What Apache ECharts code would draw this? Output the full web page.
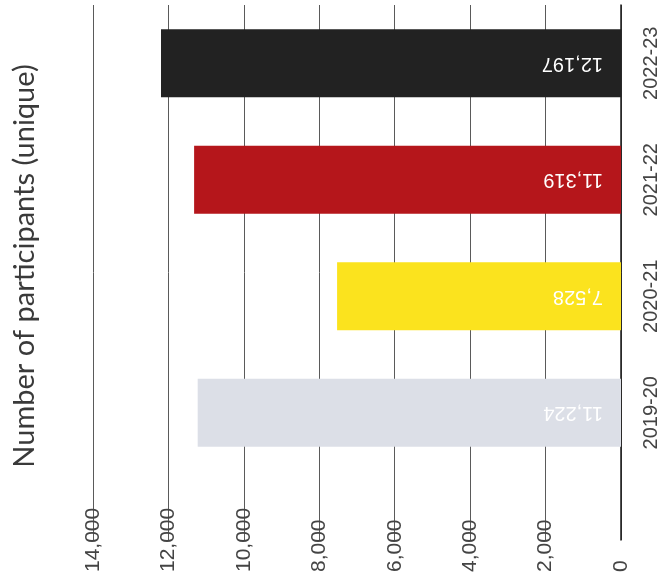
<!DOCTYPE html>
<html>
<head>
<meta charset="utf-8">
<script src="https://cdn.jsdelivr.net/npm/echarts@6/dist/echarts.min.js"></script>
<style>
  html, body { margin: 0; padding: 0; background: #ffffff; }
  #chart { width: 661px; height: 588px; }
</style>
</head>
<body>
<div id="chart"></div>
<script>
// Unique participants per academic year
const years = ['2019-20', '2020-21', '2021-22', '2022-23'];
const participants = [11224, 7528, 11319, 12197];
const barColors = ['#dcdfe7', '#fbe31e', '#b5161b', '#222222'];
const axisTitle = 'Number of participants (unique)';

const chart = echarts.init(document.getElementById('chart'), null, { renderer: 'canvas' });

const textFont = 'Liberation Sans';

chart.setOption({
  backgroundColor: '#ffffff',
  animation: false,
  grid: [
    // bars
    { left: 93, right: 40, top: 5, height: 466 },
    // gridlines, value ticks and baseline
    { left: 93, right: 40, top: 5, bottom: 48 }
  ],
  xAxis: [
    {
      gridIndex: 0, type: 'value', min: 0, max: 14000, interval: 2000, inverse: true,
      show: false
    },
    {
      gridIndex: 1, type: 'value', min: 0, max: 14000, interval: 2000, inverse: true,
      position: 'bottom',
      axisLine: { show: false },
      axisTick: { show: false },
      splitLine: { show: true, lineStyle: { color: '#5a5a5a', width: 1 } },
      axisLabel: {
        rotate: 90,
        align: 'left',
        verticalAlign: 'middle',
        margin: 32,
        padding: [0, 0, 8, 0],
        color: '#444444',
        fontFamily: textFont,
        fontSize: 21,
        formatter: v => v.toLocaleString('en-US')
      }
    }
  ],
  yAxis: [
    {
      gridIndex: 0, type: 'category', data: years, position: 'right',
      axisLine: { show: false },
      axisTick: { show: false },
      splitLine: { show: false },
      axisLabel: {
        rotate: 90,
        align: 'center',
        verticalAlign: 'top',
        margin: 20,
        color: '#444444',
        fontFamily: textFont,
        fontSize: 20
      }
    },
    {
      gridIndex: 1, type: 'value', position: 'right', min: 0, max: 1,
      axisLine: { show: true, lineStyle: { color: '#1a1a1a', width: 1.5 } },
      axisTick: { show: false },
      axisLabel: { show: false },
      splitLine: { show: false }
    }
  ],
  graphic: [
    {
      type: 'text',
      x: 25,
      y: 266,
      rotation: Math.PI / 2,
      style: {
        text: axisTitle,
        align: 'center',
        verticalAlign: 'middle',
        fill: '#3a3a3a',
        font: '29px Lato, sans-serif'
      }
    }
  ],
  series: [
    {
      type: 'bar',
      xAxisIndex: 0,
      yAxisIndex: 0,
      barWidth: 68,
      z: 3,
      data: participants.map((v, i) => ({ value: v, itemStyle: { color: barColors[i] } })),
      label: {
        show: true,
        position: 'insideRight',
        distance: 18,
        rotate: 180,
        align: 'left',
        verticalAlign: 'middle',
        color: '#ffffff',
        fontFamily: textFont,
        fontSize: 20,
        formatter: p => p.value.toLocaleString('en-US')
      }
    }
  ]
});
</script>
</body>
</html>
